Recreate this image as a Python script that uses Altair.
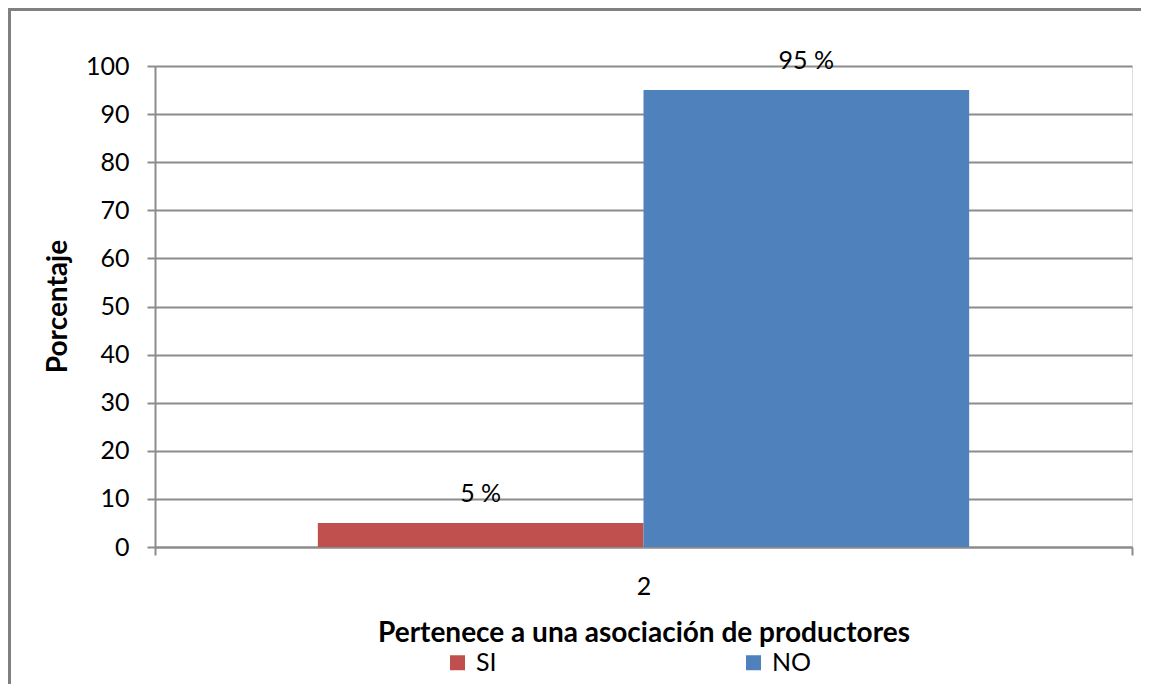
import altair as alt
import pandas as pd

categories = ["2", "2"]
series = ["SI", "NO"]
values = [5, 95]
labels = ["5 %", "95 %"]
colors = ["#C0504D", "#4F81BD"]

df = pd.DataFrame({"cat": categories, "serie": series, "valor": values, "etiqueta": labels})

FONT = "Lato"
GRID = "#8c8c8c"

x_enc = alt.X(
    "cat:N",
    title="Pertenece a una asociación de productores",
    scale=alt.Scale(paddingInner=0, paddingOuter=0),
    axis=alt.Axis(
        labelAngle=0, tickBand="extent", tickSize=8, tickWidth=2, tickColor=GRID,
        domainColor=GRID, domainWidth=2, labelFontSize=25, labelFont=FONT,
        labelColor="black", labelBaseline="alphabetic", labelPadding=39,
        titleFont=FONT, titleFontSize=28, titleFontWeight="bold", titleColor="black",
        titleBaseline="alphabetic", titleY=94, grid=False,
    ),
)
xo_enc = alt.XOffset("serie:N", sort=series, scale=alt.Scale(paddingInner=0, paddingOuter=0.5))
y_enc = alt.Y(
    "valor:Q",
    title="Porcentaje",
    scale=alt.Scale(domain=[0, 100], nice=False),
    axis=alt.Axis(
        values=list(range(0, 101, 10)), grid=True, gridColor=GRID, gridWidth=2,
        tickSize=8, tickWidth=2, tickColor=GRID, domainColor=GRID, domainWidth=2,
        labelFontSize=25, labelFont=FONT, labelColor="black", labelPadding=18,
        titleFont=FONT, titleFontSize=28, titleFontWeight="bold", titleColor="black",
        titleBaseline="alphabetic", titleX=-89, titleY=240, titleAngle=270,
    ),
)
color_enc = alt.Color(
    "serie:N",
    sort=series,
    scale=alt.Scale(domain=series, range=colors),
    legend=alt.Legend(
        title=None, orient="none", direction="horizontal", legendX=290, legendY=584,
        symbolType="square", symbolSize=225, symbolStrokeWidth=0, symbolOpacity=1,
        labelFont=FONT, labelFontSize=25, labelColor="black", labelOffset=6,
        columnPadding=244, padding=0,
    ),
)

bars = alt.Chart(df).mark_bar(opacity=1).encode(x=x_enc, xOffset=xo_enc, y=y_enc, color=color_enc)
text = alt.Chart(df).mark_text(
    font=FONT, fontSize=25, color="black", baseline="alphabetic", dy=-21
).encode(x=x_enc, xOffset=xo_enc, y=y_enc, text="etiqueta:N")

frame_df = pd.DataFrame({"k": [0]})
frame_top = alt.Chart(frame_df).mark_rule(color="#808080", strokeWidth=3, clip=False).encode(
    x=alt.value(-147), x2=alt.value(1000), y=alt.value(-56.5), y2=alt.value(-56.5)
)
frame_left = alt.Chart(frame_df).mark_rule(color="#808080", strokeWidth=3, clip=False).encode(
    x=alt.value(-145.5), x2=alt.value(-145.5), y=alt.value(-58), y2=alt.value(700)
)

chart = alt.layer(frame_top, frame_left, bars, text).properties(
    width=977, height=481,
    autosize=alt.AutoSizeParams(type="none"),
    padding={"left": 147, "top": 58, "right": 9, "bottom": 137},
).configure_view(stroke=None).configure(background="white")

chart.save("out.html", embed_options={"renderer": "svg", "actions": False})
